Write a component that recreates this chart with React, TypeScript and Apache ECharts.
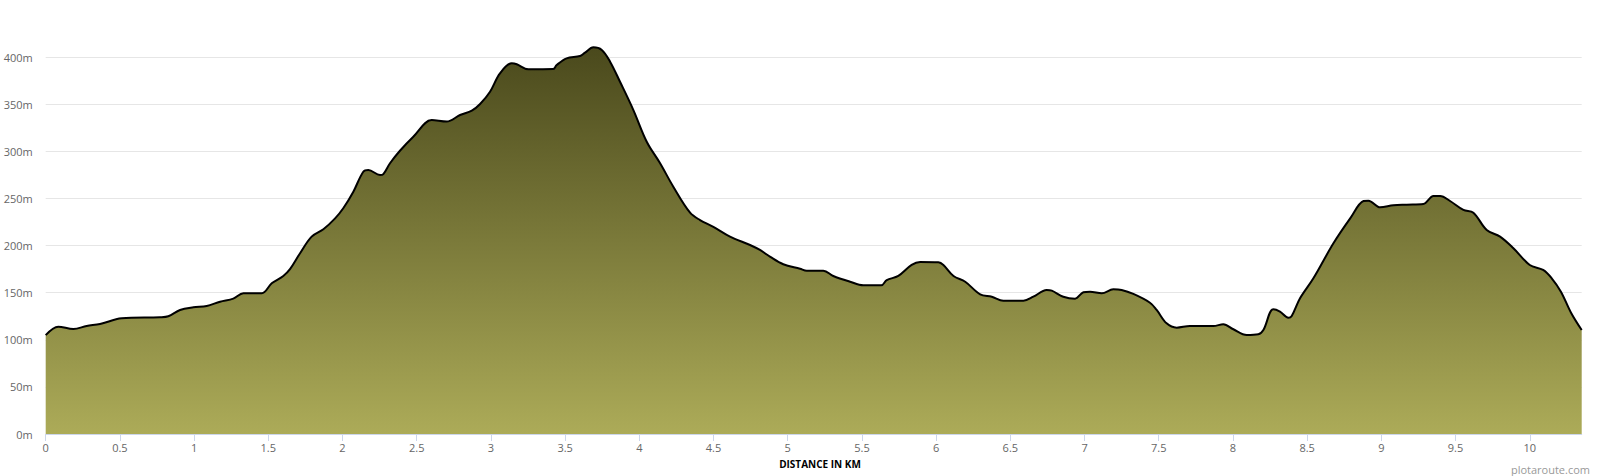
import React, { useEffect, useRef } from "react";
import * as echarts from "echarts";

const distanceKm = [
  0, 0.085, 0.186, 0.276, 0.366, 0.512, 0.77, 0.826, 0.905, 0.995, 1.085, 1.175, 1.264, 1.332, 1.456,
  1.523, 1.601, 1.646, 1.714, 1.792, 1.871, 1.95, 2.005, 2.073, 2.14, 2.174, 2.253, 2.275, 2.32, 2.387,
  2.477, 2.601, 2.702, 2.792, 2.871, 2.927, 2.994, 3.061, 3.14, 3.174, 3.252, 3.42, 3.443, 3.51, 3.6,
  3.634, 3.69, 3.747, 3.803, 3.87, 3.96, 4.05, 4.14, 4.229, 4.342, 4.409, 4.499, 4.611, 4.746, 4.813,
  4.88, 4.97, 5.083, 5.128, 5.24, 5.307, 5.42, 5.509, 5.63, 5.667, 5.745, 5.835, 5.892, 6.015, 6.049,
  6.117, 6.196, 6.297, 6.375, 6.453, 6.588, 6.655, 6.745, 6.779, 6.857, 6.936, 6.992, 7.037, 7.116,
  7.194, 7.25, 7.329, 7.441, 7.486, 7.553, 7.621, 7.71, 7.778, 7.868, 7.935, 8.003, 8.093, 8.171,
  8.205, 8.272, 8.317, 8.373, 8.396, 8.452, 8.542, 8.677, 8.79, 8.88, 8.913, 8.992, 9.081, 9.171,
  9.283, 9.351, 9.396, 9.463, 9.553, 9.62, 9.71, 9.8, 9.89, 10.0, 10.09, 10.148, 10.21, 10.28, 10.35,
];

const elevationM = [
  105, 114, 111.5, 114.7, 116.8, 122.8, 124, 125, 131.7, 134.5, 136, 140.5, 143.7, 149.4, 149.4,
  160, 167.8, 175, 192, 209.6, 217.4, 229, 239.7, 257.3, 278.5, 280.3, 275, 276, 287.5, 300.8,
  315.7, 333.4, 331.7, 338.7, 343.3, 350.4, 363.5, 383, 393.6, 392.6, 387.3, 387.6, 391.8, 398.9, 401.4,
  405, 410.6, 407.8, 395.4, 374, 344, 310.4, 287.5, 262.6, 235, 227.2, 220, 209.6, 200.7, 195.4,
  188.3, 180.2, 175.5, 173.4, 173.4, 167.8, 161.7, 157.9, 157.9, 163.5, 167.8, 179.5, 182.6, 182.3, 179.5,
  167.8, 161.7, 148.3, 145.8, 141.6, 141.6, 145.8, 152.9, 152.2, 145.8, 143.7, 150.5, 151.1, 149.4,
  153.6, 152.9, 148.7, 139.4, 131.7, 117.5, 112.9, 114.7, 114.7, 114.7, 116.5, 111.2, 105.1, 105.9,
  110.4, 132.4, 129.9, 123.5, 125.3, 144.1, 165.3, 202.5, 229, 247.4, 247.8, 240.7, 242.9, 243.5,
  244.2, 252.7, 252.7, 247.4, 237.9, 235, 216.6, 209.6, 197.2, 179.5, 174.2, 165.3, 151.1, 128.2, 110.4,
];

const xTicks = [0, 0.5, 1, 1.5, 2, 2.5, 3, 3.5, 4, 4.5, 5, 5.5, 6, 6.5, 7, 7.5, 8, 8.5, 9, 9.5, 10];
const xMax = 10.35;
const yTicks = [0, 50, 100, 150, 200, 250, 300, 350, 400];

const FONT = "'Open Sans', 'Noto Sans', sans-serif";

export default function App() {
  const ref = useRef<HTMLDivElement>(null);

  useEffect(() => {
    if (!ref.current) return;
    const chart = echarts.init(ref.current, null, { renderer: "svg" });
    const data = distanceKm.map((d, i) => [d, elevationM[i]]);
    chart.setOption({
      animation: false,
      backgroundColor: "#ffffff",
      grid: { left: 45.7, right: 18.3, top: 57.3, bottom: 42 },
      xAxis: {
        type: "value",
        min: 0,
        max: xMax,
        interval: 0.5,
        axisLine: { show: true, lineStyle: { color: "#ccd6eb", width: 1 } },
        axisTick: { show: true, length: 7, lineStyle: { color: "#ccd6eb" }, customValues: xTicks },
        axisLabel: {
          color: "#666666",
          fontSize: 11,
          fontFamily: FONT,
          margin: 8,
          customValues: xTicks,
          formatter: (v: number) => String(v),
        },
        splitLine: { show: false },
      },
      yAxis: {
        type: "value",
        min: yTicks[0],
        max: yTicks[yTicks.length - 1],
        interval: 50,
        axisLine: { show: false },
        axisTick: { show: false },
        axisLabel: {
          color: "#666666",
          fontSize: 11,
          fontFamily: FONT,
          margin: 13,
          formatter: "{value}m",
        },
        splitLine: { show: true, lineStyle: { color: "#e6e6e6", width: 1 } },
      },
      series: [
        {
          type: "line",
          data,
          smooth: 0.35,
          clip: false,
          showSymbol: false,
          symbol: "none",
          lineStyle: { color: "#000000", width: 2 },
          areaStyle: {
            opacity: 1,
            color: new echarts.graphic.LinearGradient(0, 0, 0, 1, [
              { offset: 0, color: "#4a491c" },
              { offset: 1, color: "#acab58" },
            ]),
          },
          z: 3,
        },
      ],
      graphic: [
        {
          type: "text",
          x: 820,
          y: 464,
          style: {
            text: "DISTANCE IN KM",
            fill: "#000000",
            font: `bold 10px ${FONT}`,
            align: "center",
            verticalAlign: "middle",
          },
        },
        {
          type: "text",
          x: 1590,
          y: 469,
          style: {
            text: "plotaroute.com",
            fill: "#999999",
            font: `11px ${FONT}`,
            align: "right",
            verticalAlign: "middle",
          },
        },
      ],
    });
    return () => chart.dispose();
  }, []);

  return (
    <div
      ref={ref}
      style={{ position: "fixed", left: 0, top: 0, width: 1600, height: 476 }}
    />
  );
}
